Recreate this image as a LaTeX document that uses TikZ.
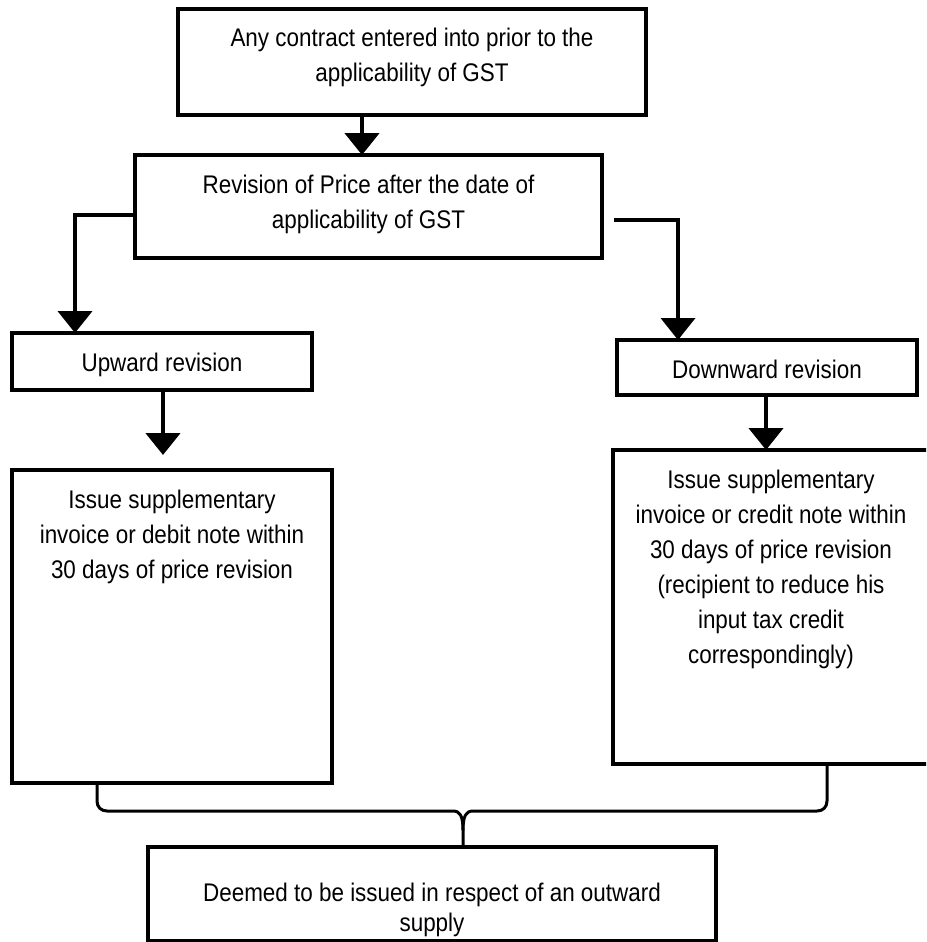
\documentclass[tikz,border=0pt]{standalone}
\usepackage{fontspec}
\setmainfont{Liberation Sans}[FakeStretch=0.88]
\usetikzlibrary{arrows.meta}
% box contents: width, height, centred lines set from the top
\newcommand{\boxtext}[3]{\parbox[c][#2][t]{#1}{\centering\fontsize{25.5}{35}\selectfont\rule{0pt}{38pt}#3}}
\begin{document}
\begin{tikzpicture}[x=1pt,y=-1pt,
  box/.style={draw, fill=white, line width=3.5pt, inner sep=0pt, outer sep=0pt, anchor=north west},
  flow/.style={line width=4.5pt, -{Triangle[width=34pt,length=22pt]}},
  elbow/.style={line width=4pt, -{Triangle[width=34pt,length=22pt]}},
  brace/.style={line width=3pt, line join=round, line cap=round}]
\useasboundingbox (0,0) rectangle (926,942);
\clip (0,0) rectangle (926,942);

% boxes
\node[box] (top) at (178,9) {\boxtext{468pt}{106pt}{Any contract entered into prior to the\\applicability of GST}};
\node[box] (rev) at (135,155) {\boxtext{467pt}{103pt}{Revision of Price after the date of\\applicability of GST}};
\node[box] (up) at (12,333) {\boxtext{300pt}{57pt}{Upward revision}};
\node[box] (down) at (617,340) {\boxtext{300pt}{55pt}{Downward revision}};
\node[box] (lbox) at (12,470) {\boxtext{320pt}{313pt}{Issue supplementary\\invoice or debit note within\\30 days of price revision}};
\node[box] (rbox) at (613,450) {\boxtext{316pt}{314pt}{Issue supplementary\\invoice or credit note within\\30 days of price revision\\(recipient to reduce his\\input tax credit\\correspondingly)}};
\node[box] (bot) at (148,847) {\parbox[c][94pt][t]{568pt}{\centering\fontsize{25.5}{30}\selectfont\rule{0pt}{54pt}Deemed to be issued in respect of an outward\\supply}};

% connectors
\coordinate (a1) at (362,0);
\draw[flow] (top.south -| a1) -- (rev.north -| a1);

\coordinate (la) at (75,215);
\draw[elbow] (rev.west |- la) -- (la) -- (la |- up.north);

\coordinate (rs) at (614,220);
\coordinate (rk) at (678,220);
\draw[elbow] (rs) -- (rk) -- (rk |- down.north);

\coordinate (ls) at (163,455);
\draw[flow] (up.south -| ls) -- (ls);

\coordinate (rx) at (766,0);
\draw[flow] (down.south -| rx) -- (rbox.north -| rx);

% joining brace
\coordinate (bl) at (97,0);
\coordinate (br) at (827,0);
\coordinate (bm) at (463,830);
\draw[brace] (lbox.south -| bl) -- (97,801) .. controls (97,807) and (101,811) .. (107,811)
  -- (453,811) .. controls (460,811) and (463,816) .. (bm) -- (bot.north -| bm);
\draw[brace] (rbox.south -| br) -- (827,801) .. controls (827,807) and (823,811) .. (817,811)
  -- (473,811) .. controls (466,811) and (463,816) .. (bm);
\end{tikzpicture}
\end{document}
